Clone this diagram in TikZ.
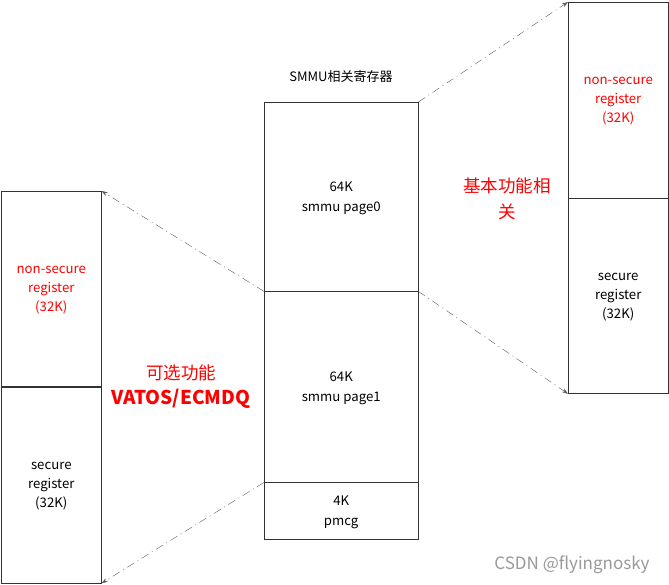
\documentclass[tikz,border=0pt]{standalone}
\usepackage{fontspec}
\setmainfont{Noto Sans CJK SC}
\usetikzlibrary{positioning,arrows.meta}

\begin{document}
\begin{tikzpicture}[x=1pt,y=-1pt]
\tikzset{
  reg/.style={draw=black!80,align=center,inner sep=0pt,minimum width=154pt,
    text depth=-8pt,font=\fontsize{13.2}{19.5}\selectfont},
  half/.style={draw=black!80,align=center,inner sep=0pt,minimum width=100pt,
    minimum height=195pt,text depth=-8pt,font=\fontsize{13.2}{19}\selectfont},
  hot/.style={text=red},
  link/.style={draw=black!65,dash pattern=on 8pt off 4pt on 1pt off 4pt,
    -{Stealth[length=6pt,width=4pt]}}
}
\useasboundingbox (0,0) rectangle (669,584);
% middle column
\node[font=\fontsize{13}{15}\selectfont] (title) at (341,77) {SMMU相关寄存器};
\node[reg,anchor=north west,minimum height=189pt] (page0) at (264,102) {64K\\smmu page0};
\node[reg,below=-0.4pt of page0,minimum height=191pt] (page1) {64K\\smmu page1};
\node[reg,below=-0.4pt of page1,minimum height=57pt] (pmcg) {4K\\pmcg};
% right column
\node[half,hot,anchor=north west,minimum height=196pt] (nsR) at (568,2) {non-secure\\register\\(32K)};
\node[half,below=0pt of nsR] (sR) {secure\\register\\(32K)};
% left column
\node[half,hot,anchor=north west,line width=0.6pt] (nsL) at (1,191) {non-secure\\register\\(32K)};
\node[half,below=0pt of nsL,minimum height=196pt,line width=0.6pt] (sL) {secure\\register\\(32K)};
% labels
\node[hot,align=center,font=\fontsize{17.5}{26}\selectfont] (basic) at (507,199) {基本功能相\\关};
\node[hot,align=center,font=\fontsize{17.5}{25}\selectfont] (optional) at (181,387) {可选功能\\\fontsize{19}{25}\selectfont\textbf{VATOS/ECMDQ}};
\node[text=black!40,font=\fontsize{17}{19}\selectfont] (mark) at (572,565) {CSDN @flyingnosky};
% links
\draw[link] (page0.north east) -- (nsR.north west);
\draw[link] (page0.south east) -- (sR.south west);
\draw[link] (page0.south west) -- (nsL.north east);
\draw[link] (page1.south west) -- (sL.south east);
\end{tikzpicture}
\end{document}
